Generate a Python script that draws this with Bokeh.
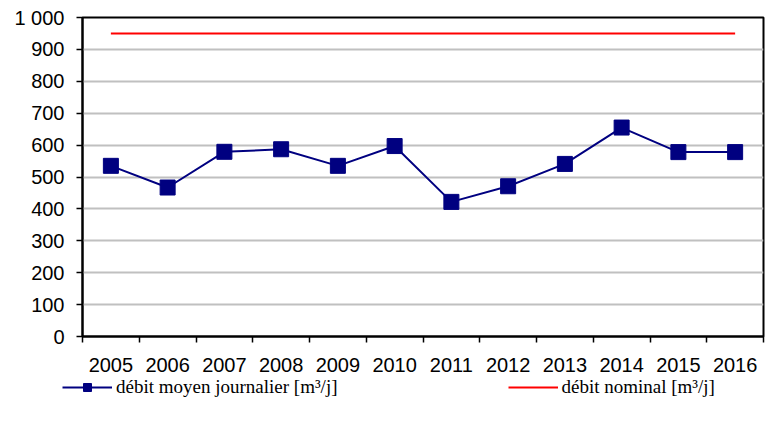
from bokeh.plotting import figure
from bokeh.layouts import column
from bokeh.models import Range1d, FixedTicker, Label, Legend, LegendItem
from bokeh.embed import file_html
from bokeh.resources import INLINE

# ---- data ----
years = ["2005", "2006", "2007", "2008", "2009", "2010",
         "2011", "2012", "2013", "2014", "2015", "2016"]
debit_moyen = [535, 467, 579, 587, 535, 597, 422, 471, 541, 655, 578, 578]
debit_nominal = [950, 950, 950, 950, 950, 950, 950, 950, 950, 950, 950, 950]
y_ticks = [0, 100, 200, 300, 400, 500, 600, 700, 800, 900, 1000]
y_tick_labels = ["0", "100", "200", "300", "400", "500", "600", "700", "800", "900", "1 000"]
title_text = "Evolution des débits reçus à la station"
label_moyen = "débit moyen journalier [m³/j]"
label_nominal = "débit nominal [m³/j]"

NAVY = "#000080"
RED = "#ff0000"

xs = [i + 0.5 for i in range(len(years))]
bounds = list(range(len(years) + 1))

# ---- title strip (only the lower part of the title is visible, as in the reference) ----
hd = figure(width=768, height=5, x_range=Range1d(0, 768), y_range=Range1d(0, 5),
            x_axis_location=None, y_axis_location=None, title=None,
            min_border=0, output_backend="svg", toolbar_location=None)
hd.frame_align = False
hd.grid.visible = False
hd.outline_line_color = None
hd.add_layout(Label(x=465, y=7, text=title_text,
                    text_font="Liberation Sans", text_font_style="bold",
                    text_font_size="26px", text_align="center",
                    text_baseline="middle", text_color="black"))

# ---- main chart ----
p = figure(width=768, height=371, title=None,
           x_range=Range1d(0, len(years)), y_range=Range1d(0, 1000),
           min_border_left=82, min_border_right=5, min_border_top=12, min_border_bottom=40,
           output_backend="svg", toolbar_location=None)
p.frame_align = False

p.outline_line_color = "black"
p.outline_line_width = 2
p.xgrid.visible = False
p.ygrid.grid_line_color = "#c0c0c0"
p.ygrid.grid_line_width = 2

xa = p.xaxis[0]
xa.ticker = FixedTicker(ticks=xs, minor_ticks=bounds)
xa.major_label_overrides = dict(zip(xs, years))
xa.major_tick_out = 0
xa.major_tick_in = 0
xa.minor_tick_out = 6
xa.minor_tick_in = 0
xa.minor_tick_line_color = "black"
xa.minor_tick_line_width = 1.5
xa.axis_line_color = "black"
xa.axis_line_width = 2
xa.major_label_standoff = 15
xa.major_label_text_font = "Liberation Sans"
xa.major_label_text_font_size = "20px"
xa.major_label_text_color = "black"

ya = p.yaxis[0]
ya.ticker = FixedTicker(ticks=y_ticks)
ya.major_label_overrides = dict(zip(y_ticks, y_tick_labels))
ya.major_tick_out = 6
ya.major_tick_in = 0
ya.major_tick_line_color = "black"
ya.major_tick_line_width = 1.5
ya.minor_tick_line_color = None
ya.axis_line_color = "black"
ya.axis_line_width = 2
ya.major_label_standoff = 12
ya.major_label_text_font = "Liberation Sans"
ya.major_label_text_font_size = "20px"
ya.major_label_text_color = "black"

p.line(xs, debit_nominal, line_color=RED, line_width=2)
p.line(xs, debit_moyen, line_color=NAVY, line_width=2)
p.scatter(xs, debit_moyen, marker="square", size=15, fill_color=NAVY, line_color=NAVY)

# ---- legend strip (separate figure so the legend is not clipped by the chart frame) ----
lg = figure(width=768, height=43, x_range=Range1d(0, 1), y_range=Range1d(5000, 5001),
            x_axis_location=None, y_axis_location=None, title=None,
            min_border=0, output_backend="svg", toolbar_location=None)
lg.frame_align = False
lg.grid.visible = False
lg.outline_line_color = None
# same series, drawn out of this strip's view: only their legend swatches show
sw_line = lg.line(xs, debit_moyen, line_color=NAVY, line_width=2)
sw_sq = lg.scatter(xs, debit_moyen, marker="square", size=15, fill_color=NAVY, line_color=NAVY)
sw_nom = lg.line(xs, debit_nominal, line_color=RED, line_width=2)
legend = Legend(items=[LegendItem(label=label_moyen, renderers=[sw_line, sw_sq]),
                       LegendItem(label=label_nominal, renderers=[sw_nom])],
                orientation="horizontal", location=(62, 21),
                spacing=170, glyph_width=50, glyph_height=20, label_standoff=4,
                padding=0, margin=0, border_line_color=None,
                background_fill_alpha=0,
                label_text_font="Liberation Serif", label_text_font_size="19px",
                label_text_color="black")
lg.add_layout(legend)

layout = column(hd, p, lg, spacing=0)
open("out.html", "w").write(file_html(layout, INLINE))
